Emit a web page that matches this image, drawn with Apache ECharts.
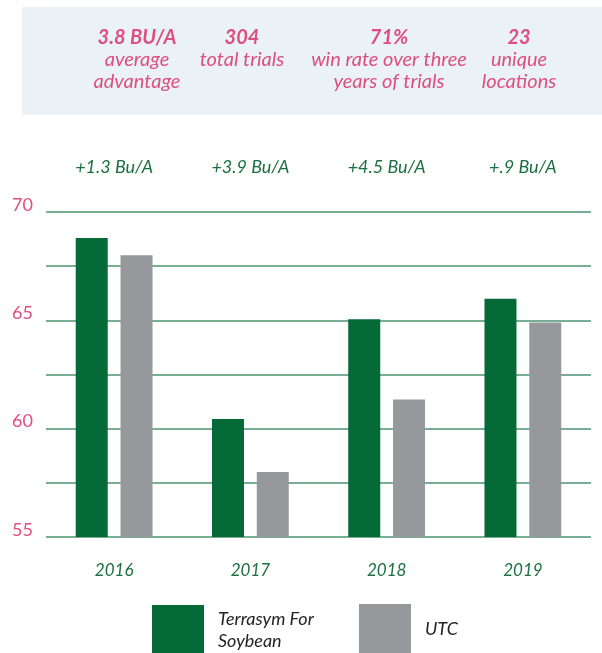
<!DOCTYPE html>
<html>
<head>
<meta charset="utf-8">
<script src="https://cdn.jsdelivr.net/npm/echarts@6/dist/echarts.min.js"></script>
<style>html,body{margin:0;padding:0;background:#fff;}#c{width:602px;height:653px;}</style>
</head>
<body>
<div id="c"></div>
<script>
const categories = ['2016', '2017', '2018', '2019'];
const terrasym = [68.8, 60.45, 65.05, 66.0];
const utc = [68.0, 58.0, 61.35, 64.9];
const advantages = ['+1.3 Bu/A', '+3.9 Bu/A', '+4.5 Bu/A', '+.9 Bu/A'];
const yTicks = [55, 60, 65, 70];
const statHeads = ['3.8 BU/A', '304', '71%', '23'];
const statLines = [['average', 'advantage'], ['total trials'], ['win rate over three', 'years of trials'], ['unique', 'locations']];
const seriesNames = ['Terrasym For\nSoybean', 'UTC'];

const GREEN = '#046a38', GRAY = '#97989c', PINK = '#dd4f7e', TGREEN = '#1d6e40';
const statX = [137, 242, 389, 519];
const graphics = [{type:'rect', shape:{x:22, y:7, width:580, height:108}, style:{fill:'#eaf1f7'}, z:-1}];
statHeads.forEach((h, i) => {
  graphics.push({type:'text', x:statX[i], y:38, style:{text:h, fill:PINK, font:'italic bold 20px Lato', textAlign:'center', textVerticalAlign:'middle'}});
  statLines[i].forEach((l, j) => {
    graphics.push({type:'text', x:statX[i], y:60 + j*22, style:{text:l, fill:PINK, font:'italic 20px Lato', textAlign:'center', textVerticalAlign:'middle'}});
  });
});

const chart = echarts.init(document.getElementById('c'));
chart.setOption({
  animation:false,
  graphic: graphics,
  grid:{left:46, width:545, top:212, height:325},
  xAxis:[{
    type:'category', data:categories,
    axisLine:{show:false}, axisTick:{show:false},
    axisLabel:{color:TGREEN, fontFamily:'Lato', fontStyle:'italic', fontSize:17, margin:25}
  },{
    type:'category', data:advantages, position:'top',
    axisLine:{show:false}, axisTick:{show:false},
    axisLabel:{color:TGREEN, fontFamily:'Lato', fontStyle:'italic', fontSize:18, margin:36}
  }],
  yAxis:{
    type:'value', min:55, max:70, interval:2.5,
    axisLine:{show:false}, axisTick:{show:false},
    splitLine:{lineStyle:{color:'#78ae93', width:2}},
    axisLabel:{color:PINK, fontFamily:'Lato', fontSize:18, margin:13, verticalAlign:'bottom', lineHeight:14,
      formatter: v => yTicks.includes(v) ? String(v) : ''}
  },
  legend:[{
    data:[seriesNames[0]], left:152, top:605, padding:0, itemWidth:52, itemHeight:50, icon:'rect',
    textStyle:{color:'#222', fontFamily:'Lato', fontStyle:'italic', fontSize:18, lineHeight:22, padding:[0,0,0,9]}
  },{
    data:[seriesNames[1]], left:359, top:604, padding:0, itemWidth:52, itemHeight:50, icon:'rect',
    textStyle:{color:'#222', fontFamily:'Lato', fontStyle:'italic', fontSize:18, padding:[0,0,0,9]}
  }],
  series:[
    {name:seriesNames[0], type:'bar', data:terrasym, barWidth:32, barGap:'40%', itemStyle:{color:GREEN}},
    {name:seriesNames[1], type:'bar', data:utc, barWidth:32, barGap:'40%', itemStyle:{color:GRAY}}
  ]
});
</script>
</body>
</html>
